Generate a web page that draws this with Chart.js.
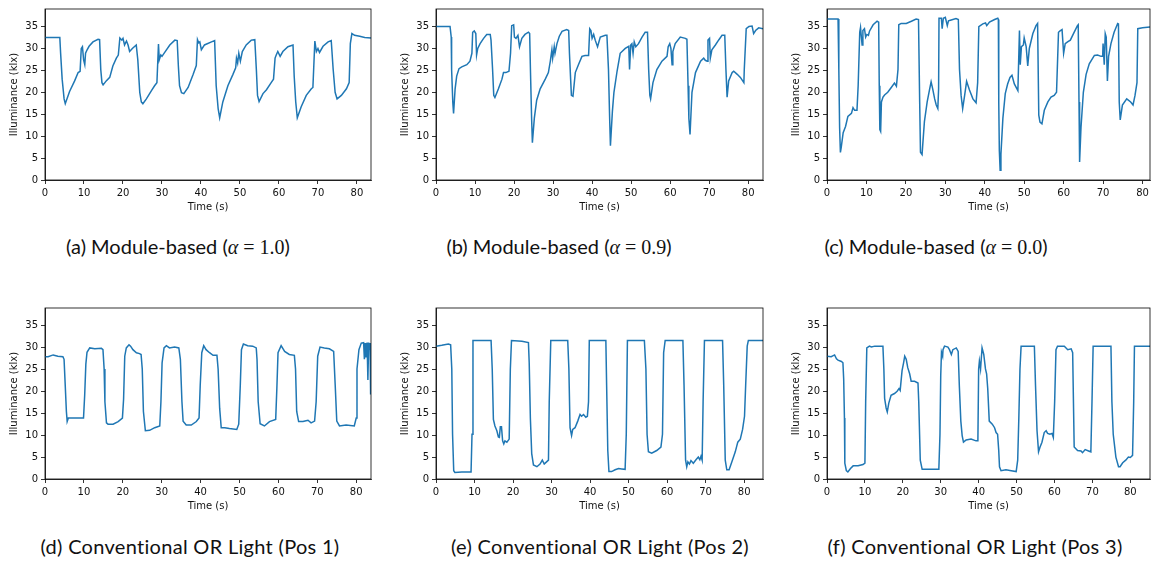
<!DOCTYPE html>
<html>
<head>
<meta charset="utf-8">
<script src="https://cdn.jsdelivr.net/npm/chart.js@4.4.1/dist/chart.umd.min.js"></script>
<style>
  body { margin: 0; background: #fff; width: 1156px; height: 565px; position: relative; overflow: hidden; }
  canvas { position: absolute; }
  .cap { position: absolute; width: 400px; text-align: center; font-family: Lato, "Noto Sans", sans-serif; font-size: 20px; color: #111; white-space: nowrap; }
  .m { font-family: "Liberation Serif", serif; }
</style>
</head>
<body>
<canvas id="cA" width="376" height="215" style="left:0px;top:0px"></canvas>
<canvas id="cB" width="377" height="215" style="left:391px;top:0px"></canvas>
<canvas id="cC" width="373" height="215" style="left:782px;top:0px"></canvas>
<canvas id="cD" width="376" height="215" style="left:0px;top:299px"></canvas>
<canvas id="cE" width="377" height="215" style="left:391px;top:299px"></canvas>
<canvas id="cF" width="373" height="215" style="left:782px;top:299px"></canvas>

<div class="cap" style="left:-22px;top:234px">(a) Module-based (<span class="m"><i>α</i> = 1.0</span>)</div>
<div class="cap" style="left:359px;top:234px">(b) Module-based (<span class="m"><i>α</i> = 0.9</span>)</div>
<div class="cap" style="left:736px;top:234px">(c) Module-based (<span class="m"><i>α</i> = 0.0</span>)</div>
<div class="cap" style="left:-10px;top:534px;letter-spacing:0.3px">(d) Conventional OR Light (Pos 1)</div>
<div class="cap" style="left:400px;top:534px;letter-spacing:0.3px">(e) Conventional OR Light (Pos 2)</div>
<div class="cap" style="left:775px;top:534px;letter-spacing:0.3px">(f) Conventional OR Light (Pos 3)</div>

<script>
// axis ticks
const xTicks = [0, 10, 20, 30, 40, 50, 60, 70, 80];
const yTicks = [0, 5, 10, 15, 20, 25, 30, 35];
const yMax = 39;

// (a) module-based, alpha = 1.0
const tA = [0, 3.8, 4.0, 4.4, 4.9, 5.2, 6.3, 7.6, 8.5, 9.0, 9.3, 9.6, 9.9, 10.2, 10.4, 10.8, 11.3, 12.3, 13.6, 14.0,
  14.3, 14.6, 14.9, 15.7, 16.6, 17.4, 18.3, 18.8, 19.2, 19.7, 20.0, 20.4, 20.9, 21.3, 21.7, 22.4, 23.4,
  23.8, 24.3, 24.7, 25.1, 26.0, 27.3, 28.1, 28.7, 29.1, 29.3, 29.7, 30.0, 30.7, 32.0, 33.3, 33.9,
  34.2, 34.5, 35.0, 35.6, 36.7, 38.0, 38.8, 39.1, 39.4, 39.7, 40.1, 40.9, 42.7, 43.5,
  43.9, 44.4, 44.8, 45.6, 46.9, 48.2, 48.9, 49.1, 49.4, 49.7, 50.1, 50.6, 51.6, 52.9, 53.8,
  54.2, 54.5, 54.9, 55.9, 56.8, 58.0, 58.6, 59.0, 59.3, 59.7, 60.3, 61.0, 62.3, 63.6,
  63.9, 64.3, 64.7, 65.7, 67.0, 68.3, 68.7, 69.2, 69.6, 70.0, 70.4, 71.3, 72.6, 73.4,
  73.9, 74.4, 74.9, 76.0, 77.3, 78.0, 78.3, 78.7, 79.4, 80.7, 82.0, 83.6];
const yA = [32.5, 32.5, 29.0, 23.0, 18.5, 17.4, 20.2, 22.6, 24.5, 24.8, 30.0, 30.4, 27.4, 26.3, 28.9, 29.7, 30.5, 31.5, 32.1, 32.0,
  25.2, 22.2, 21.7, 22.6, 23.4, 26.0, 27.8, 28.5, 32.4, 31.9, 32.3, 30.8, 31.7, 30.8, 29.3, 30.0, 30.8,
  27.4, 20.0, 17.8, 17.4, 18.5, 20.4, 21.5, 22.2, 31.0, 27.4, 28.5, 28.2, 29.1, 30.8, 31.9, 31.8,
  26.0, 21.5, 19.9, 19.7, 21.1, 24.1, 26.1, 32.0, 31.3, 31.5, 29.7, 30.8, 31.5, 31.8,
  21.5, 16.3, 14.2, 17.8, 21.5, 24.1, 25.6, 27.8, 26.7, 28.9, 27.1, 29.3, 30.8, 31.9, 32.0,
  25.2, 19.3, 17.9, 19.7, 20.6, 22.2, 23.0, 27.8, 28.5, 29.3, 28.2, 29.3, 30.4, 30.8,
  23.7, 17.8, 14.2, 16.7, 19.3, 20.8, 21.1, 31.7, 29.3, 30.0, 29.1, 30.5, 31.5, 31.8,
  25.2, 20.0, 18.5, 19.3, 20.8, 22.2, 31.1, 33.4, 33.0, 32.8, 32.5, 32.4];

// (b) module-based, alpha = 0.9
const tB = [0, 3.6, 3.9, 4.0, 4.3, 4.5, 4.9, 5.3, 5.9, 6.6, 7.9, 8.7, 9.2, 9.4, 9.8, 10.2, 10.4, 10.7, 11.3, 12.2, 13.0, 13.9,
  14.1, 14.5, 14.8, 15.1, 16.0, 16.9, 17.3, 17.9, 18.7, 19.1, 19.4, 19.9, 20.1, 20.5, 21.0, 21.4, 22.0, 22.8, 23.7, 24.0,
  24.2, 24.5, 24.7, 25.2, 25.8, 26.7, 28.0, 28.8, 29.3, 29.7, 29.9, 30.3, 30.5, 31.0, 31.6, 32.3, 33.5, 34.0,
  34.2, 34.5, 34.7, 35.1, 35.7, 36.5, 37.4, 38.2, 39.1, 39.4, 39.7, 40.0, 40.4, 40.8, 41.4, 42.1, 43.4, 43.8,
  44.2, 44.5, 44.7, 45.2, 45.6, 46.4, 47.2, 48.5, 49.4, 49.6, 49.9, 50.2, 50.5, 50.8, 51.2, 51.9, 52.8, 53.6, 54.2,
  54.5, 54.8, 55.0, 55.6, 56.6, 57.9, 59.2, 59.5, 59.9, 60.2, 60.5, 60.7, 61.3, 62.6, 63.9, 64.3,
  64.6, 64.8, 65.1, 65.6, 66.5, 67.8, 68.6, 69.0, 69.5, 69.7, 70.1, 70.3, 70.7, 71.6, 72.5, 73.3, 74.0,
  74.3, 74.6, 75.0, 75.9, 76.3, 77.2, 78.0, 78.9, 79.0, 79.5, 80.2, 81.0, 81.4, 81.9, 82.7, 83.8];
const yB = [35.0, 35.0, 32.6, 25.2, 17.8, 15.2, 20.8, 23.7, 25.4, 25.8, 26.3, 27.1, 28.9, 33.7, 34.0, 33.4, 28.5, 30.0, 31.1, 32.3, 33.2, 33.2,
  31.9, 25.2, 19.3, 18.8, 20.8, 23.0, 24.5, 24.5, 24.8, 28.9, 35.2, 35.4, 32.6, 32.3, 33.0, 30.4, 32.3, 33.2, 33.7, 33.4,
  25.2, 14.1, 8.5, 14.1, 18.2, 20.8, 23.0, 24.5, 27.1, 29.7, 27.8, 30.4, 28.9, 31.1, 32.8, 33.9, 34.3, 34.1,
  28.9, 23.0, 19.3, 19.1, 24.5, 26.3, 28.2, 28.4, 28.4, 34.5, 34.1, 32.3, 33.2, 31.9, 30.4, 32.6, 33.0, 33.0,
  25.2, 14.1, 7.8, 15.6, 20.0, 24.8, 28.9, 30.0, 30.5, 25.2, 30.8, 31.1, 28.9, 31.5, 30.4, 31.1, 32.6, 33.7, 33.7,
  25.2, 19.3, 18.5, 22.2, 25.2, 27.1, 28.2, 30.4, 31.1, 30.0, 26.3, 29.3, 31.1, 32.6, 32.3, 32.1,
  21.5, 14.1, 10.4, 20.0, 24.5, 27.1, 27.8, 27.3, 27.1, 31.9, 32.3, 27.8, 29.7, 30.8, 32.0, 33.0, 33.0,
  25.2, 18.9, 22.6, 24.5, 24.8, 24.1, 23.4, 22.2, 25.2, 34.5, 35.0, 35.1, 33.4, 34.1, 34.7, 34.5];

// (c) module-based, alpha = 0.0
const tC = [0, 2.8, 3.0, 3.2, 3.4, 3.6, 4.1, 4.7, 5.3, 6.2, 6.6, 7.0, 7.6, 7.9, 8.3, 8.5, 8.9, 9.1, 9.5, 9.8, 10.1, 10.5, 10.8, 11.7, 12.7, 13.1,
  13.25, 13.4, 13.6, 13.8, 14.2, 14.6, 15.4, 16.3, 17.1, 17.6, 18.0, 18.2, 18.8, 20.1, 21.4, 22.6, 23.2,
  23.5, 23.7, 24.1, 24.7, 25.4, 26.0, 26.4, 26.8, 27.3, 27.7, 28.1, 28.3, 28.4, 29.0, 29.2, 29.5, 30.0, 30.5, 30.8, 31.5, 32.7, 33.3,
  33.6, 34.0, 34.4, 34.9, 35.4, 36.1, 37.0, 37.8, 38.2, 38.5, 39.5, 40.2, 40.5, 41.2, 42.5, 43.3, 43.45,
  43.55, 43.7, 43.9, 44.1, 44.6, 45.2, 45.8, 46.4, 46.9, 47.5, 48.4, 48.8, 49.0, 49.3, 49.8, 50.0, 50.5, 50.9, 51.3, 52.2, 53.0, 53.4,
  53.7, 54.0, 54.5, 55.1, 56.0, 56.8, 57.6, 58.2, 58.7, 59.1, 59.6, 60.0, 60.4, 61.0, 61.7, 62.5, 63.5, 63.7,
  63.9, 64.05, 64.4, 65.0, 65.7, 66.5, 67.8, 68.6, 69.5, 69.9, 70.0, 70.3, 70.55, 70.8, 71.1, 71.4, 72.0, 72.8, 73.7, 73.9,
  74.1, 74.35, 74.9, 76.0, 77.0, 77.6, 78.1, 78.6, 78.8, 80.0, 81.9];
const yC = [36.7, 36.7, 25.2, 11.9, 6.3, 7.4, 10.8, 12.2, 14.5, 15.2, 16.5, 15.9, 15.9, 21.5, 33.7, 34.8, 30.8, 34.1, 34.5, 32.6, 33.2, 33.0, 34.0, 35.4, 36.2, 36.0,
  21.5, 11.5, 11.1, 17.8, 18.9, 19.4, 20.0, 21.1, 22.1, 21.4, 25.2, 35.4, 35.7, 35.7, 36.2, 36.7, 36.6,
  17.8, 6.3, 5.8, 13.3, 17.8, 20.6, 22.4, 20.8, 18.5, 17.1, 16.3, 20.8, 36.9, 36.9, 34.5, 36.9, 37.1, 35.2, 36.3, 36.5, 36.8, 36.6,
  25.2, 19.3, 16.3, 19.3, 22.5, 20.6, 18.5, 17.6, 22.2, 35.0, 35.6, 35.8, 35.2, 36.0, 36.6, 36.9, 36.6,
  17.8, 6.7, 2.2, 5.9, 14.1, 19.7, 21.9, 23.4, 23.9, 21.9, 20.4, 34.1, 26.3, 30.4, 30.8, 32.4, 30.4, 26.0, 30.0, 33.4, 35.2, 35.7,
  14.8, 13.2, 12.8, 15.9, 17.8, 18.9, 19.3, 20.0, 33.7, 34.0, 34.3, 28.9, 31.1, 31.5, 31.9, 33.4, 35.2, 35.4,
  17.8, 4.1, 11.9, 20.0, 24.1, 26.5, 28.4, 28.5, 28.2, 28.2, 31.1, 26.3, 33.4, 32.6, 22.6, 28.2, 31.1, 33.7, 35.7, 35.6,
  17.8, 13.7, 17.1, 18.5, 17.8, 17.1, 19.3, 22.2, 34.5, 34.7, 34.9];

// (d) conventional OR light, position 1
const tD = [0, 0.8, 2.1, 3.3, 4.6, 4.9, 5.2, 5.5, 5.7, 6.0, 7.2, 9.3, 9.9, 10.2, 10.5, 10.8, 11.5, 12.8, 14.5, 14.9,
  15.2, 15.4, 15.8, 16.2, 17.5, 18.8, 19.9, 20.2, 20.5, 20.9, 21.6, 22.0, 22.6, 23.5, 24.3, 24.7,
  25.0, 25.3, 25.8, 26.9, 28.2, 29.5, 29.8, 30.1, 30.6, 31.2, 32.0, 33.3, 34.4,
  34.8, 35.2, 35.5, 36.3, 37.6, 38.9, 39.6, 39.9, 40.3, 40.8, 41.4, 42.3, 43.2, 44.2,
  44.5, 44.9, 45.3, 46.2, 47.4, 49.3, 49.8, 50.2, 50.5, 51.0, 52.1, 53.4, 54.3,
  54.5, 54.8, 55.3, 56.4, 57.7, 59.3, 59.6, 59.9, 60.7, 61.6, 62.8, 64.1,
  64.4, 64.7, 65.2, 66.3, 67.6, 68.4, 69.3, 69.7, 70.1, 70.7, 71.8, 73.1, 74.2,
  74.6, 75.0, 75.7, 77.4, 79.5, 80.0, 80.2, 80.7, 81.3, 81.9, 82.1, 82.3, 82.5, 82.8, 83.0, 83.2, 83.4, 83.55, 83.7];
const yD = [27.9, 27.9, 28.3, 28.0, 27.9, 27.3, 21.4, 15.4, 13.1, 13.9, 13.9, 13.9, 13.9, 19.1, 26.2, 28.9, 29.9, 29.7, 29.8, 29.5,
  25.1, 17.6, 12.8, 12.5, 12.5, 13.1, 13.9, 18.2, 28.0, 29.9, 30.6, 30.3, 29.5, 28.8, 28.6, 28.4,
  25.1, 15.4, 11.0, 11.1, 11.7, 12.1, 17.6, 26.5, 29.9, 30.4, 29.9, 30.1, 29.9,
  27.3, 17.6, 13.2, 12.3, 12.3, 13.1, 13.9, 21.4, 28.8, 30.4, 29.5, 28.8, 28.2, 28.2,
  25.1, 16.1, 11.7, 11.7, 11.5, 11.3, 12.5, 21.4, 29.5, 30.8, 30.4, 30.3, 29.9,
  27.3, 17.6, 12.6, 12.1, 13.1, 13.6, 20.7, 28.8, 30.4, 29.1, 28.4, 28.2,
  25.1, 15.4, 13.1, 13.1, 13.4, 12.8, 13.2, 17.6, 28.0, 30.1, 29.9, 29.7, 29.1,
  21.4, 13.2, 12.1, 12.3, 12.1, 13.9, 25.1, 29.5, 31.0, 31.1, 27.3, 31.0, 27.7, 31.1, 22.6, 31.1, 29.5, 31.0, 19.3];

// (e) conventional OR light, position 2
const tE = [0, 1.5, 3.2, 3.8, 4.1, 4.3, 4.6, 4.9, 6.7, 9.1, 9.35, 9.6, 14.3,
  14.6, 14.9, 15.3, 15.8, 16.2, 16.45, 16.7, 17.0, 17.3, 17.6, 17.9, 18.4, 19.0, 19.3, 19.6, 22.3, 24.0,
  24.2, 24.5, 24.85, 25.3, 26.2, 27.0, 27.6, 28.1, 28.7, 29.2, 29.4, 29.8, 34.2,
  34.5, 34.8, 35.2, 35.5, 36.1, 36.8, 37.4, 37.8, 38.3, 38.9, 39.3, 39.6, 39.8, 44.1,
  44.3, 44.6, 44.9, 45.6, 46.5, 47.4, 48.2, 49.1, 49.4, 49.7, 54.1,
  54.5, 54.8, 55.15, 56.0, 57.3, 58.4, 58.8, 59.1, 59.5, 64.1,
  64.4, 64.8, 65.1, 65.4, 65.8, 66.2, 66.8, 67.5, 68.1, 68.5, 68.8, 69.1, 69.35, 69.7, 74.4,
  74.7, 75.1, 75.5, 76.1, 76.8, 77.7, 78.35, 79.0, 79.6, 80.1, 80.4, 80.8, 81.1, 84.9];
const yE = [30.3, 30.5, 30.8, 30.6, 25.1, 10.2, 1.9, 1.5, 1.6, 1.6, 10.2, 31.6, 31.6,
  25.1, 13.6, 12.1, 11.0, 9.6, 9.5, 11.9, 11.9, 8.7, 8.0, 8.7, 8.4, 9.1, 25.1, 31.6, 31.4, 31.1,
  26.5, 13.9, 5.8, 3.2, 2.8, 3.4, 4.3, 3.4, 3.9, 4.3, 17.6, 31.6, 31.6,
  25.1, 11.7, 9.9, 11.3, 11.7, 13.2, 14.7, 14.3, 14.7, 14.1, 14.3, 17.6, 31.6, 31.6,
  21.4, 6.5, 1.7, 1.7, 2.1, 2.4, 2.3, 2.2, 10.2, 31.6, 31.6,
  25.1, 10.2, 6.2, 5.9, 6.5, 7.3, 10.2, 28.8, 31.6, 31.6,
  21.4, 4.3, 2.8, 3.9, 3.4, 4.2, 3.6, 4.4, 5.0, 4.4, 5.2, 4.3, 17.6, 31.6, 31.6,
  21.4, 4.3, 2.1, 2.1, 3.9, 6.2, 8.4, 9.1, 11.3, 14.3, 21.4, 30.3, 31.6, 31.6];

// (f) conventional OR light, position 3
const tF = [0, 1.1, 2.0, 2.5, 2.9, 3.8, 4.2, 4.4, 4.6, 4.7, 5.1, 5.5, 6.2, 6.9, 8.2, 9.5, 10.0, 10.2, 10.5, 11.2, 11.7, 12.6, 14.75,
  15.0, 15.2, 15.6, 15.9, 16.3, 16.9, 17.8, 18.5, 19.0, 19.3, 19.8, 20.2, 20.5, 20.9, 21.3, 21.8, 22.2, 23.1, 24.0,
  24.2, 24.6, 25.1, 26.6, 29.5, 29.8, 30.0, 30.2, 30.5, 30.6, 31.0, 31.9, 32.3, 32.8, 33.2, 34.1, 34.6,
  34.9, 35.3, 35.65, 36.0, 36.7, 38.0, 39.3, 39.8, 40.0, 40.2, 40.5, 40.9, 41.35, 41.8, 42.1, 42.4, 42.8, 43.6, 44.2, 44.6, 45.0,
  45.3, 45.5, 45.9, 47.2, 48.6, 49.9, 50.3, 50.6, 50.9, 51.2, 54.7,
  55.0, 55.4, 55.8, 56.2, 56.7, 57.3, 57.8, 58.2, 58.8, 59.35, 59.7, 60.05, 60.4, 60.8, 62.6, 63.5, 64.4, 64.8,
  65.2, 66.1, 67.0, 67.4, 68.1, 69.0, 69.6, 69.9, 70.2, 74.9,
  75.15, 75.5, 76.2, 76.9, 77.3, 78.0, 78.8, 79.5, 80.0, 80.6, 80.9, 81.1, 85.2];
const yF = [28.0, 27.9, 28.3, 27.4, 27.1, 26.8, 26.5, 22.8, 13.9, 3.6, 1.9, 1.6, 2.4, 3.0, 3.0, 3.3, 3.6, 17.6, 29.9, 30.3, 30.1, 30.3, 30.3,
  25.1, 18.4, 16.2, 15.3, 17.3, 19.1, 19.5, 20.0, 20.6, 20.2, 24.7, 26.5, 28.0, 27.3, 25.4, 24.0, 22.3, 22.3, 21.9,
  17.6, 4.3, 2.2, 2.2, 2.2, 10.2, 23.6, 28.9, 28.0, 29.5, 30.3, 30.1, 29.5, 28.4, 29.5, 29.9, 29.1,
  21.4, 13.2, 9.9, 8.4, 8.9, 9.1, 8.7, 8.7, 25.1, 26.9, 25.1, 29.9, 28.4, 25.1, 24.0, 20.6, 13.2, 12.5, 11.7, 10.6, 10.2,
  6.5, 2.8, 1.9, 2.1, 1.9, 1.7, 4.3, 13.9, 25.1, 30.3, 30.3,
  21.4, 11.0, 6.2, 7.3, 8.4, 10.6, 11.0, 10.4, 10.2, 10.4, 9.5, 17.6, 29.5, 30.3, 30.3, 29.5, 29.7, 28.8,
  7.3, 6.5, 6.4, 6.0, 6.7, 6.4, 6.2, 17.6, 30.3, 30.3,
  17.6, 10.2, 5.0, 2.8, 2.8, 3.7, 4.3, 5.0, 4.9, 5.4, 17.6, 30.3, 30.3];

// draw the full box (matplotlib style spines)
const frame = {
  id: 'frame',
  afterDraw(chart) {
    const a = chart.chartArea, ctx = chart.ctx;
    ctx.save();
    ctx.strokeStyle = '#000';
    ctx.lineWidth = 0.8;
    ctx.strokeRect(a.left, a.top, a.right - a.left, a.bottom - a.top);
    ctx.restore();
  }
};

function makePanel(id, times, values, xMax) {
  const pts = times.map((t, i) => ({ x: t, y: values[i] }));
  const tickFont = { family: 'DejaVu Sans', size: 10 };
  new Chart(document.getElementById(id), {
    type: 'line',
    data: {
      datasets: [{
        data: pts,
        borderColor: '#1f77b4',
        borderWidth: 1.5,
        pointRadius: 0,
        tension: 0,
        fill: false
      }]
    },
    options: {
      responsive: false,
      animation: false,
      events: [],
      layout: { padding: { top: 5, right: 5, left: 0, bottom: 0 } },
      plugins: { legend: { display: false }, tooltip: { enabled: false } },
      scales: {
        x: {
          type: 'linear',
          min: 0,
          max: xMax,
          afterBuildTicks: s => { s.ticks = xTicks.filter(v => v <= xMax).map(v => ({ value: v })); },
          afterFit: s => { s.height = 35; },
          grid: { drawOnChartArea: false, drawTicks: true, tickLength: 4, color: '#000', lineWidth: 0.8 },
          border: { display: true, color: '#000', width: 0.8 },
          ticks: { font: tickFont, color: '#111', padding: 3, maxRotation: 0 },
          title: { display: true, text: 'Time (s)', font: tickFont, color: '#111', padding: { top: 0, bottom: 2 } }
        },
        y: {
          min: 0,
          max: yMax,
          afterBuildTicks: s => { s.ticks = yTicks.map(v => ({ value: v })); },
          afterFit: s => { s.width = 45; },
          grid: { drawOnChartArea: false, drawTicks: true, tickLength: 4, color: '#000', lineWidth: 0.8 },
          border: { display: true, color: '#000', width: 0.8 },
          ticks: { font: tickFont, color: '#111', padding: 3 },
          title: { display: true, text: 'Illuminance (klx)', font: tickFont, color: '#111', padding: { top: 8, bottom: 0 } }
        }
      }
    },
    plugins: [frame]
  });
}

makePanel('cA', tA, yA, 83.6);
makePanel('cB', tB, yB, 83.8);
makePanel('cC', tC, yC, 81.9);
makePanel('cD', tD, yD, 83.8);
makePanel('cE', tE, yE, 84.9);
makePanel('cF', tF, yF, 85.2);
</script>
</body>
</html>
